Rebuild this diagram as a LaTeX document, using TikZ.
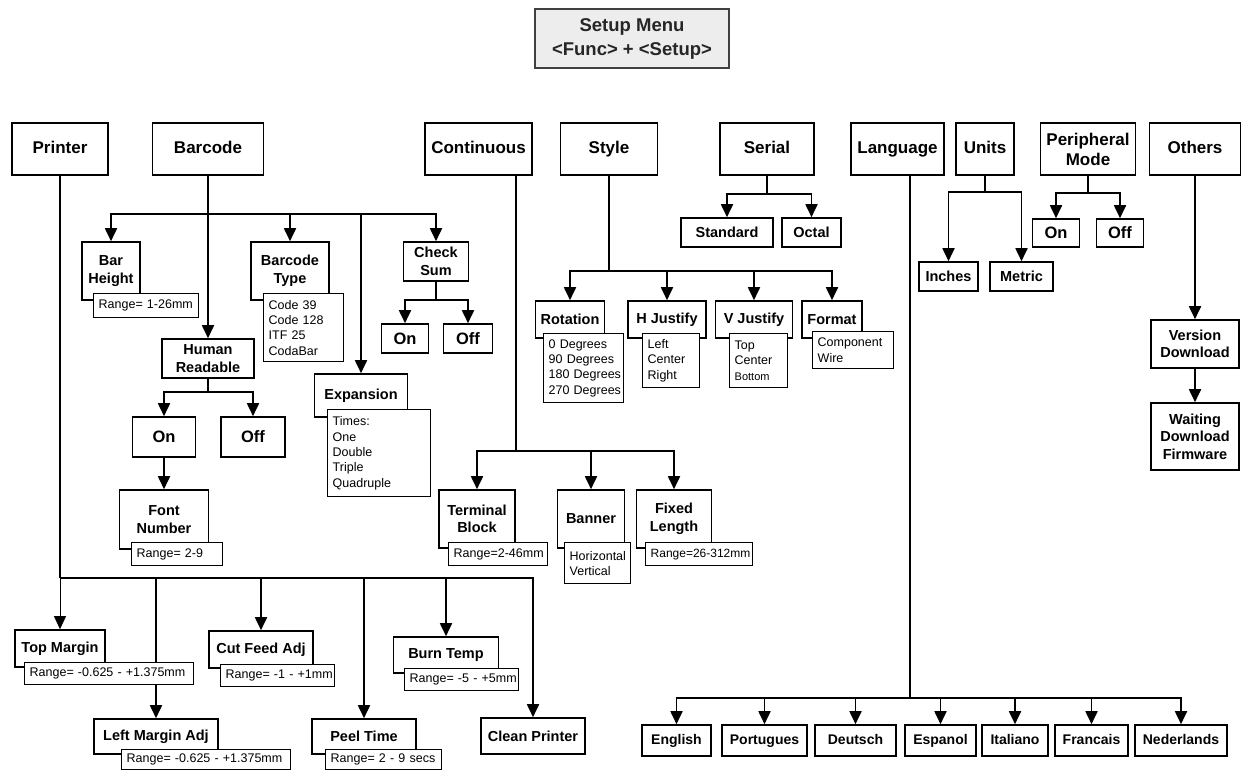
\documentclass[tikz,border=0pt]{standalone}
\usepackage{fontspec}
\setmainfont{Liberation Sans}
\usetikzlibrary{arrows.meta,calc}
\pgfdeclarelayer{bg}
\pgfsetlayers{bg,main}
\begin{document}
\begin{tikzpicture}[x=1pt,y=-1pt,
  box/.style={draw=black, line width=1.6pt, fill=white, inner sep=0pt, align=center},
  hdr/.style={box, font=\fontsize{17}{20}\selectfont\bfseries, minimum height=52pt},
  hdrone/.style={hdr, text height=12.4pt, text depth=3.6pt},
  sub/.style={box, font=\fontsize{14.5}{17.5}\selectfont\bfseries},
  onoff/.style={box, font=\fontsize{16.5}{19}\selectfont\bfseries},
  lang/.style={box, font=\fontsize{14}{17}\selectfont\bfseries, minimum height=31pt, text height=10.3pt, text depth=3pt},
  lst/.style={draw=black, line width=1.4pt, fill=white, anchor=north west, inner xsep=5pt, inner ysep=1pt, align=left, font=\fontsize{12.5}{15.3}\selectfont},
  con/.style={line width=1.8pt},
  arr/.style={con, -{Triangle[width=12pt,length=13pt]}},
]
\useasboundingbox (0,0) rectangle (1243,770);

% title
\node[draw=black!75, line width=2pt, fill=black!7, minimum width=194pt, minimum height=59pt, align=center, inner sep=0pt, text=black!85, font=\fontsize{18.5}{24}\selectfont\bfseries] (title) at (632,38.5) {Setup Menu\\<Func> + <Setup>};

% headers
\node[hdrone, minimum width=96pt] (printer) at (60,149) {Printer};
\node[hdrone, minimum width=111pt] (barcode) at (208,149) {Barcode};
\node[hdrone, minimum width=107pt] (continuous) at (478.5,149) {Continuous};
\node[hdrone, minimum width=97pt] (style) at (609,149) {Style};
\node[hdrone, minimum width=94pt] (serial) at (767,149) {Serial};
\node[hdrone, minimum width=93pt] (language) at (897.5,149) {Language};
\node[hdrone, minimum width=58pt] (units) at (985,149) {Units};
\node[hdr, minimum width=95pt] (peripheral) at (1088,149) {Peripheral\\Mode};
\node[hdrone, minimum width=91pt] (others) at (1195,149) {Others};

% barcode subtree
\node[sub, minimum width=58pt, minimum height=58pt] (barheight) at (111,271) {Bar\\Height};
\node[lst, text width=95pt, minimum height=24pt] (bhrange) at (93,293) {\mbox{Range= 1-26mm}};
\node[sub, minimum width=78pt, minimum height=58pt] (bctype) at (290,271) {Barcode\\Type};
\node[lst, text width=70pt, minimum height=68pt] (bctlist) at (263,293) {\mbox{Code 39}\\\mbox{Code 128}\\\mbox{ITF 25}\\\mbox{CodaBar}};
\node[sub, minimum width=65pt, minimum height=39pt] (checksum) at (436,261.5) {Check\\Sum};
\node[onoff, minimum width=47pt, minimum height=29pt] (cson) at (405,338.5) {On};
\node[onoff, minimum width=49pt, minimum height=29pt] (csoff) at (468,338.5) {Off};
\node[sub, minimum width=93pt, minimum height=43pt] (expansion) at (361,395.5) {Expansion};
\node[lst, text width=93pt, minimum height=87pt] (explist) at (327,409) {Times:\\One\\Double\\Triple\\Quadruple};
\node[sub, minimum width=92pt, minimum height=39pt] (hr) at (208,358.5) {Human\\Readable};
\node[onoff, minimum width=63pt, minimum height=40pt] (hron) at (164,437) {On};
\node[onoff, minimum width=64pt, minimum height=40pt] (hroff) at (253,437) {Off};
\node[sub, minimum width=89pt, minimum height=59pt] (fontnum) at (164,519.5) {Font\\Number};
\node[lst, text width=81pt, minimum height=23pt] (fnrange) at (131,542) {\mbox{Range= 2-9}};

% printer subtree
\node[sub, minimum width=90pt, minimum height=37pt] (topmargin) at (60,648.5) {Top Margin};
\node[lst, text width=159pt, minimum height=22pt] (tmrange) at (24,662) {\mbox{Range= -0.625 - +1.375mm}};
\node[sub, minimum width=104pt, minimum height=37pt] (cutfeed) at (261,649.5) {Cut Feed Adj};
\node[lst, text width=104pt, minimum height=22pt] (cfrange) at (220,664) {\mbox{Range= -1 - +1mm}};
\node[sub, minimum width=124pt, minimum height=35pt] (leftmargin) at (156,736.5) {Left Margin Adj};
\node[lst, text width=159pt, minimum height=20pt] (lmrange) at (121,749) {\mbox{Range= -0.625 - +1.375mm}};
\node[sub, minimum width=104pt, minimum height=35pt] (peeltime) at (364,736.5) {Peel Time};
\node[lst, text width=106pt, minimum height=20pt] (ptrange) at (325,749) {\mbox{Range= 2 - 9 secs}};
\node[sub, minimum width=105pt, minimum height=36pt] (burntemp) at (446,655) {Burn Temp};
\node[lst, text width=104pt, minimum height=22pt] (btrange) at (404,668) {\mbox{Range= -5 - +5mm}};
\node[sub, minimum width=104pt, minimum height=36pt] (cleanprinter) at (533,736) {Clean Printer};

% continuous subtree
\node[sub, minimum width=76pt, minimum height=58pt] (terminal) at (477,519) {Terminal\\Block};
\node[lst, text width=89pt, minimum height=23pt] (termrange) at (448,542) {\mbox{Range=2-46mm}};
\node[sub, minimum width=67pt, minimum height=58pt] (banner) at (591,519) {Banner};
\node[lst, text width=56pt, minimum height=41pt] (bannerlist) at (564,542) {\mbox{Horizontal}\\\mbox{Vertical}};
\node[sub, minimum width=75pt, minimum height=58pt] (fixedlen) at (674,519) {Fixed\\Length};
\node[lst, text width=97pt, minimum height=23pt, font=\fontsize{12}{15}\selectfont] (flrange) at (645,542) {\mbox{Range=26-312mm}};

% style subtree
\node[sub, minimum width=69pt, minimum height=37pt] (rotation) at (570,319.5) {Rotation};
\node[lst, text width=70pt, minimum height=69pt] (rotlist) at (543,333) {\mbox{0 Degrees}\\\mbox{90 Degrees}\\\mbox{180 Degrees}\\\mbox{270 Degrees}};
\node[sub, minimum width=78pt, minimum height=37pt] (hjust) at (667,319.5) {H Justify};
\node[lst, text width=47pt, minimum height=54pt] (hjlist) at (642,333) {Left\\Center\\Right};
\node[sub, minimum width=77pt, minimum height=37pt] (vjust) at (754,319.5) {V Justify};
\node[lst, text width=48pt, minimum height=54pt] (vjlist) at (729,333) {Top\\Center\\{\fontsize{11}{15.3}\selectfont Bottom}};
\node[sub, minimum width=60pt, minimum height=37pt] (format) at (832,319.5) {Format};
\node[lst, text width=71pt, minimum height=37pt] (fmtlist) at (812,331) {\mbox{Component}\\Wire};

% serial
\node[sub, minimum width=92pt, minimum height=29pt] (standard) at (727,232.5) {Standard};
\node[sub, minimum width=59pt, minimum height=29pt] (octal) at (811.5,232.5) {Octal};

% units
\node[sub, minimum width=59pt, minimum height=29pt] (inches) at (948.5,276.5) {Inches};
\node[sub, minimum width=63pt, minimum height=29pt] (metric) at (1021.5,276.5) {Metric};

% peripheral
\node[onoff, minimum width=47pt, minimum height=28pt] (pon) at (1056,233) {On};
\node[onoff, minimum width=47pt, minimum height=28pt] (poff) at (1120,233) {Off};

% others
\node[sub, minimum width=88pt, minimum height=48pt] (version) at (1195,344) {Version\\Download};
\node[sub, minimum width=88pt, minimum height=67pt] (waiting) at (1195,436.5) {Waiting\\Download\\Firmware};

% languages
\node[lang, minimum width=69pt] (english) at (676.5,740.5) {English};
\node[lang, minimum width=85pt] (portugues) at (764.5,740.5) {Portugues};
\node[lang, minimum width=81pt] (deutsch) at (855.5,740.5) {Deutsch};
\node[lang, minimum width=71pt] (espanol) at (940.5,740.5) {Espanol};
\node[lang, minimum width=66pt] (italiano) at (1015,740.5) {Italiano};
\node[lang, minimum width=73pt] (francais) at (1091.5,740.5) {Francais};
\node[lang, minimum width=92pt] (nederlands) at (1181,740.5) {Nederlands};

\begin{pgfonlayer}{bg}
% printer
\coordinate (pbus) at (60,578);
\draw[con] (printer.south) -- (pbus);
\draw[line width=0.8pt, -{Triangle[width=12pt,length=13pt]}] (pbus) -- (topmargin.north);
\draw[arr] (pbus) -| (leftmargin.north);
\draw[arr] (pbus) -| (cutfeed.north);
\draw[arr] (pbus) -| (peeltime.north);
\draw[arr] (pbus) -| (burntemp.north);
\draw[arr] (pbus) -| (cleanprinter.north);
% barcode
\coordinate (bbus) at (208,214);
\draw[arr] (barcode.south) -- (hr.north);
\draw[arr] (bbus) -| (barheight.north);
\draw[arr] (bbus) -| (bctype.north);
\draw[arr] (bbus) -| (expansion.north);
\draw[arr] (bbus) -| (checksum.north);
\coordinate (csbus) at (436,300);
\draw[con] (checksum.south) -- (csbus);
\draw[arr] (csbus) -| (cson.north);
\draw[arr] (csbus) -| (csoff.north);
\coordinate (hbus) at (208,392);
\draw[con] (hr.south) -- (hbus);
\draw[arr] (hbus) -| (hron.north);
\draw[arr] (hbus) -| (hroff.north);
\draw[arr] (hron.south) -- (fontnum.north);
% continuous
\coordinate (cobus) at (516,451);
\draw[con] (continuous.south -| cobus) -- (cobus);
\draw[arr] (cobus) -| (terminal.north);
\draw[arr] (cobus) -| (banner.north);
\draw[arr] (cobus) -| (fixedlen.north);
% style
\coordinate (stbus) at (609,271);
\draw[con] (style.south) -- (stbus);
\draw[arr] (stbus) -| (rotation.north);
\draw[arr] (stbus) -| (hjust.north);
\draw[arr] (stbus) -| (vjust.north);
\draw[arr] (stbus) -| (format.north);
% serial
\coordinate (sebus) at (767,194);
\draw[con] (serial.south) -- (sebus);
\draw[arr] (sebus) -| (standard.north);
\draw[arr] (sebus) -| (octal.north);
% units
\coordinate (ubus) at (985,192);
\draw[con] (units.south) -- (ubus);
\draw[arr] (ubus) -| (inches.north);
\draw[arr] (ubus) -| (metric.north);
% peripheral
\coordinate (pmbus) at (1088,193);
\draw[con] (peripheral.south) -- (pmbus);
\draw[arr] (pmbus) -| (pon.north);
\draw[arr] (pmbus) -| (poff.north);
% others
\draw[arr] (others.south) -- (version.north);
\draw[arr] (version.south) -- (waiting.north);
% language
\coordinate (lbus) at (910,698);
\draw[con] (language.south -| lbus) -- (lbus);
\draw[arr] (lbus) -| (english.north);
\draw[arr] (lbus) -| (portugues.north);
\draw[arr] (lbus) -| (deutsch.north);
\draw[arr] (lbus) -| (espanol.north);
\draw[arr] (lbus) -| (italiano.north);
\draw[arr] (lbus) -| (francais.north);
\draw[arr] (lbus) -| (nederlands.north);
\end{pgfonlayer}
\end{tikzpicture}
\end{document}
